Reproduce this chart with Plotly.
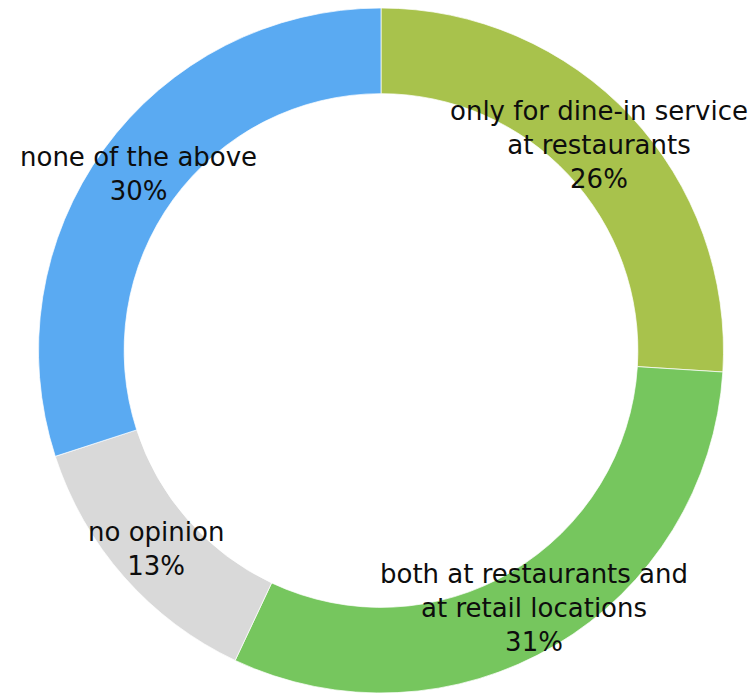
import math
import plotly.graph_objects as go

# Survey answers, clockwise from 12 o'clock
labels = [
    "only for dine-in service<br>at restaurants",
    "both at restaurants and<br>at retail locations",
    "no opinion",
    "none of the above",
]
shares = [26, 31, 13, 30]
colors = ["#A8C24C", "#76C65E", "#D9D9D9", "#5AAAF2"]

W, H = 754, 696
CX, CY = 381, 350.5          # ring centre in pixels (from top-left)
R_OUT = 342.5
HOLE = 0.75
R_MID = R_OUT * (1 + HOLE) / 2

fig = go.Figure(
    go.Pie(
        labels=labels,
        values=shares,
        hole=HOLE,
        sort=False,
        direction="clockwise",
        rotation=0,
        marker=dict(colors=colors, line=dict(color="rgba(255,255,255,0.7)", width=1)),
        textinfo="none",
        hoverinfo="label+percent",
        showlegend=False,
        domain=dict(
            x=[(CX - R_OUT) / W, (CX + R_OUT) / W],
            y=[(H - CY - R_OUT) / H, (H - CY + R_OUT) / H],
        ),
    )
)

# Category name + percentage, centred on the ring at each slice's mid-angle
total = sum(shares)
cum = 0
for lab, v in zip(labels, shares):
    mid = (cum + v / 2) / total * 2 * math.pi
    cum += v
    px = CX + R_MID * math.sin(mid)
    py = CY - R_MID * math.cos(mid)
    pct = round(v / total * 100)
    fig.add_annotation(
        x=px / W,
        y=1 - py / H,
        xref="paper",
        yref="paper",
        text=f"{lab}<br>{pct}%",
        showarrow=False,
        xanchor="center",
        yanchor="middle",
        align="center",
        font=dict(family="DejaVu Sans", size=26, color="#0d0d0d"),
    )

fig.update_layout(
    width=W,
    height=H,
    margin=dict(l=0, r=0, t=0, b=0),
    paper_bgcolor="white",
    plot_bgcolor="white",
)

fig.write_html("out.html")
